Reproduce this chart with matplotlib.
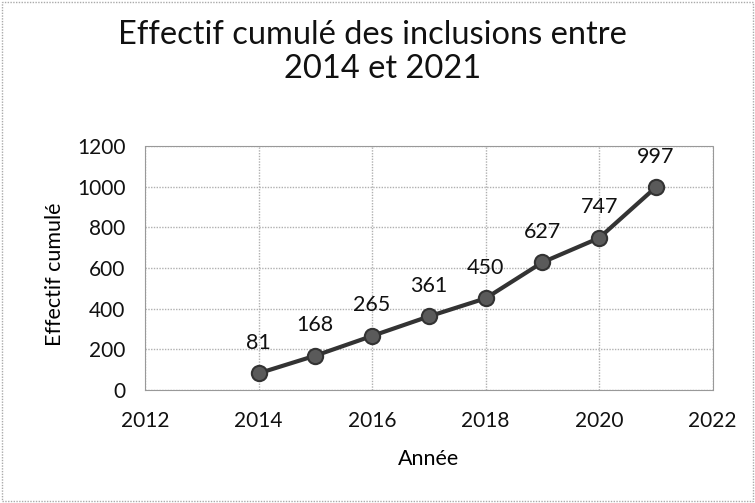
import matplotlib.pyplot as plt
from matplotlib.patches import Rectangle

# données
annees = [2014, 2015, 2016, 2017, 2018, 2019, 2020, 2021]
effectif = [81, 168, 265, 361, 450, 627, 747, 997]

plt.rcParams['font.family'] = ['Lato', 'DejaVu Sans']

fig = plt.figure(figsize=(7.55, 5.03), dpi=100)
ax = fig.add_axes([0.192, 0.225, 0.752, 0.485])

ax.plot(annees, effectif, color='#333333', lw=3, marker='o', ms=11,
        mfc='#5a5a5a', mec='#333333', mew=1.5, zorder=3)

for x, y in zip(annees, effectif):
    ax.annotate(str(y), (x, y), xytext=(0, 22), textcoords='offset points',
                ha='center', va='center', fontsize=15.5, color='#111111')

ax.set_xlim(2012, 2022)
ax.set_ylim(0, 1200)
ax.set_xticks(range(2012, 2023, 2))
ax.set_yticks(range(0, 1201, 200))
ax.grid(True, color='#b0b0b0', lw=1, ls=(0, (1, 1)))
ax.set_axisbelow(True)
for s in ax.spines.values():
    s.set_color('#999999')
    s.set_linestyle((0, (1, 1)))
ax.tick_params(length=0, labelsize=15, colors='#111111')
ax.tick_params(axis='x', pad=15)
ax.tick_params(axis='y', pad=14)

ax.set_xlabel('Année', fontsize=15.5, va='center')
ax.xaxis.set_label_coords(0.5, -0.283)
ax.set_ylabel('Effectif cumulé', fontsize=15.5, va='center')
ax.yaxis.set_label_coords(-0.158, 0.475)

fig.text(372 / 755, 1 - 44 / 503, 'Effectif cumulé des inclusions entre', ha='center',
         va='baseline', fontsize=23.5, color='#111111')
fig.text(383 / 755, 1 - 78 / 503, '2014 et 2021', ha='center', va='baseline',
         fontsize=23.5, color='#111111')

fig.patches.append(Rectangle((0.003, 0.003), 0.994, 0.994, transform=fig.transFigure,
                             fill=False, ec='#aaaaaa', lw=1, ls=(0, (1, 1))))

fig.savefig('out.png', dpi=100)
